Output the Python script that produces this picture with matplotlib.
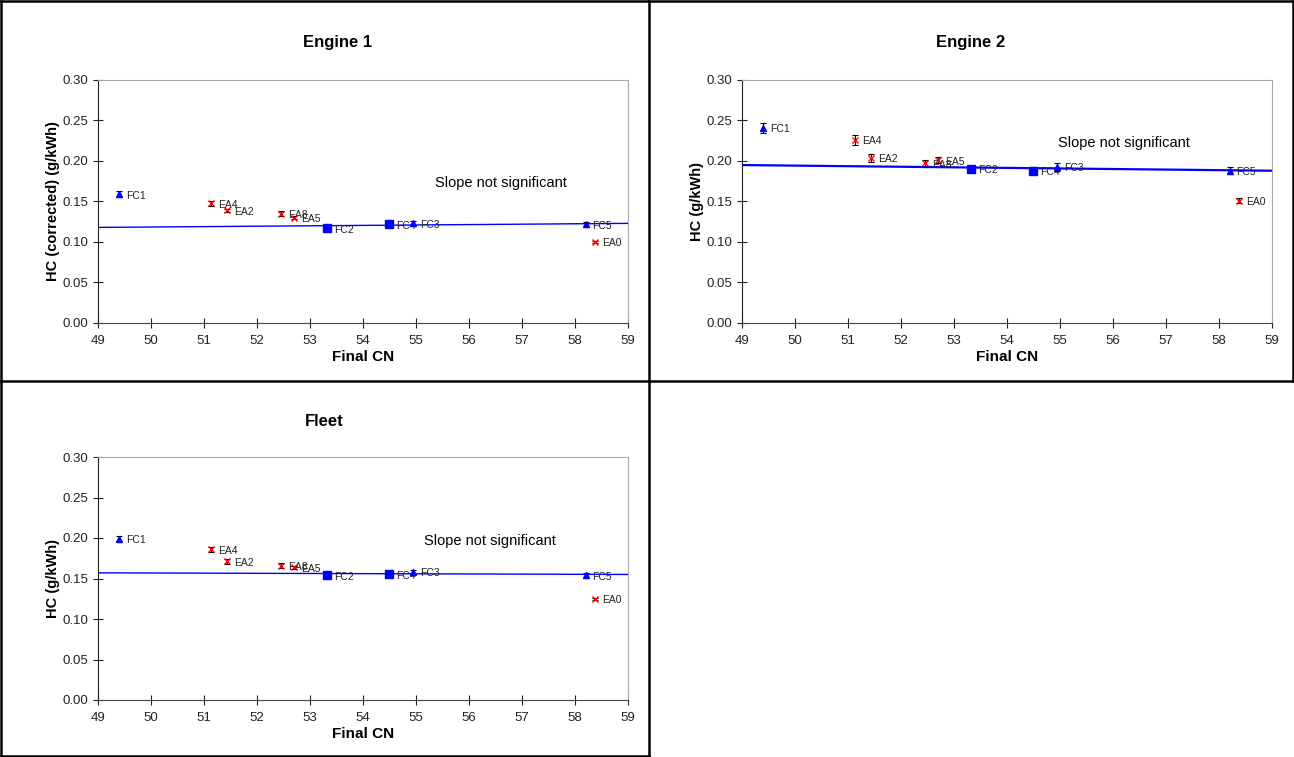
import matplotlib.pyplot as plt
from matplotlib.lines import Line2D

plt.rcParams['font.family'] = ['Liberation Sans', 'DejaVu Sans']

# point labels and fuel CN values (same for all panels)
labels = ["FC1", "EA4", "EA2", "EA8", "EA5", "FC2", "FC4", "FC3", "FC5", "EA0"]
final_cn = [49.4, 51.13, 51.43, 52.45, 52.7, 53.32, 54.49, 54.94, 58.2, 58.38]
markers = ["^", "x", "x", "x", "x", "s", "s", "^", "^", "x"]

engine1_hc = [0.159, 0.148, 0.139, 0.135, 0.130, 0.117, 0.122, 0.123, 0.122, 0.100]
engine1_err = [0.004, 0.003, 0.002, 0.003, 0.002, 0.002, 0.002, 0.003, 0.003, 0.001]
engine1_fit = [0.118, 0.123]

engine2_hc = [0.241, 0.226, 0.204, 0.197, 0.201, 0.190, 0.188, 0.193, 0.188, 0.151]
engine2_err = [0.006, 0.006, 0.005, 0.004, 0.004, 0.004, 0.004, 0.005, 0.004, 0.003]
engine2_fit = [0.195, 0.188]

fleet_hc = [0.199, 0.186, 0.171, 0.166, 0.164, 0.154, 0.155, 0.158, 0.154, 0.125]
fleet_err = [0.003, 0.003, 0.003, 0.003, 0.002, 0.002, 0.002, 0.003, 0.003, 0.001]
fleet_fit = [0.157, 0.155]

x_ticks = list(range(49, 60))
y_ticks = [0.00, 0.05, 0.10, 0.15, 0.20, 0.25, 0.30]

W, H = 1294, 757
fig = plt.figure(figsize=(W / 100, H / 100), dpi=100)


def px(x0, y0, x1, y1):
    return [x0 / W, 1 - y1 / H, (x1 - x0) / W, (y1 - y0) / H]


def panel(rect, title, title_x, title_y, ylabel, hc, err, fit, fit_lw, note_xy):
    ax = fig.add_axes(rect)
    ax.plot([49, 59], fit, color="#0000ff", lw=fit_lw, zorder=2)
    for x, y, e, m, lab in zip(final_cn, hc, err, markers, labels):
        col = "#ff0000" if m == "x" else "#0000ff"
        ms = 4 if m == "x" else (6 if m == "s" else 5)
        ax.errorbar(x, y, yerr=e, fmt="none", ecolor="black", elinewidth=0.8,
                    capsize=2.5, capthick=0.8, zorder=3)
        ax.plot(x, y, marker=m, color=col, ms=ms, mew=1.0, ls="none", zorder=4)
        ax.annotate(lab, (x, y), xytext=(5, -1), textcoords="offset points",
                    fontsize=7.5, va="center", ha="left", color="#222222")
    ax.text(note_xy[0], note_xy[1], "Slope not significant", fontsize=10.5,
            ha="center", va="center")
    ax.set_xlim(49, 59)
    ax.set_ylim(0, 0.30)
    ax.set_xticks(x_ticks)
    ax.set_yticks(y_ticks)
    ax.set_yticklabels([f"{v:.2f}" for v in y_ticks])
    ax.tick_params(direction="inout", length=7, width=0.8, labelsize=9.5,
                   colors="#222222")
    ax.tick_params(axis="x", pad=5)
    ax.spines["left"].set_color("#222222")
    ax.spines["bottom"].set_color("#444444")
    ax.spines["top"].set_color("#aaaaaa")
    ax.spines["right"].set_color("#aaaaaa")
    ax.set_xlabel("Final CN", fontsize=11, fontweight="bold", labelpad=2)
    ax.set_ylabel(ylabel, fontsize=10.5, fontweight="bold", labelpad=2)
    fig.text(title_x / W, 1 - title_y / H, title, fontsize=12,
             fontweight="bold", ha="center", va="center")
    return ax


panel(px(98, 80, 628, 323), "Engine 1", 338, 43, "HC (corrected) (g/kWh)",
      engine1_hc, engine1_err, engine1_fit, 1.0, (56.6, 0.173))
panel(px(742, 80, 1272, 323), "Engine 2", 971, 43, "HC (g/kWh)",
      engine2_hc, engine2_err, engine2_fit, 1.6, (56.2, 0.222))
panel(px(98, 457, 628, 700), "Fleet", 324, 421, "HC (g/kWh)",
      fleet_hc, fleet_err, fleet_fit, 1.0, (56.4, 0.196))

# cell borders
border = dict(color="black", lw=1.8, transform=fig.transFigure)
for xs, ys in [
    ([1, 1293], [1, 1]),
    ([1, 1], [1, 756]),
    ([649, 649], [1, 756]),
    ([1293, 1293], [1, 381]),
    ([1, 1293], [381, 381]),
    ([1, 649], [756, 756]),
]:
    fig.add_artist(Line2D([x / W for x in xs], [1 - y / H for y in ys], **border))

plt.savefig("out.png", dpi=100)
plt.close()
